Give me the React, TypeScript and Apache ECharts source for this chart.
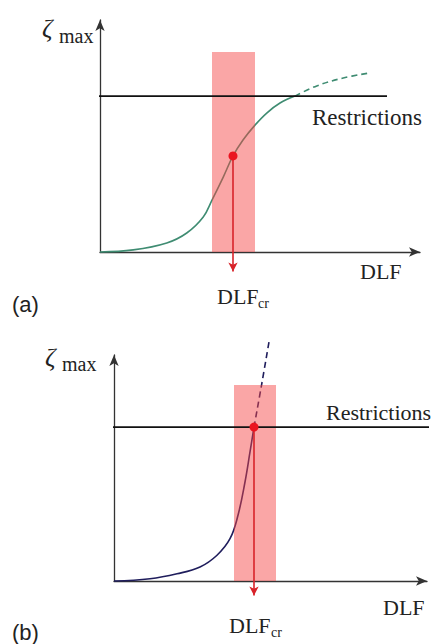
import React, { useEffect, useRef } from "react";
import * as echarts from "echarts";

// ---- Panel (a) data (arbitrary DLF / zeta units) ----
const aCurveSolid: number[][] = [
  [0, 0], [1.33, 0.09], [2.67, 0.39], [3.47, 0.82], [4.13, 1.51], [4.48, 2.24],
  [4.93, 3.23], [5.32, 4.14], [5.72, 4.83], [6.2, 5.47], [6.67, 5.99], [7.2, 6.42], [7.8, 6.72],
];
const aCurveDashed: number[][] = [[7.8, 6.72], [8.67, 7.16], [9.73, 7.5], [10.8, 7.72]];
const aRestriction: number[][] = [[-1, 6.72], [11.48, 6.72]];
const aBand: number[] = [4.48, 6.2, 0, 8.62];
const aCritical: number[] = [5.32, 4.14];
const aArrowEnd = -0.84;

// ---- Panel (b) data ----
const bCurveSolid: number[][] = [
  [0, 0], [1.44, 0.1], [2.52, 0.32], [3.44, 0.62], [4.12, 1.14], [4.64, 1.87],
  [4.96, 2.91], [5.24, 4.38], [5.44, 5.71], [5.6, 6.81],
];
const bCurveDashed: number[][] = [[5.6, 6.81], [5.9, 8.66], [6.2, 10.58]];
const bRestriction: number[][] = [[-1.52, 6.81], [12.8, 6.81]];
const bBand: number[] = [4.8, 6.48, 0, 8.67];
const bCritical: number[] = [5.6, 6.81];
const bArrowEnd = -0.64;

const axisColor = "#333";
const bandColor = "rgba(244, 70, 70, 0.48)";
const red = "#d8232a";
const serif = "'Times New Roman', 'Liberation Serif', 'DejaVu Serif', serif";
const sans = "Arial, 'Liberation Sans', sans-serif";

function makeAxes(gridIndex: number, xMax: number) {
  const common = {
    gridIndex,
    type: "value" as const,
    splitLine: { show: false },
    axisTick: { show: false },
    axisLabel: { show: false },
    axisLine: {
      show: true,
      onZero: false,
      symbol: ["none", "arrow"],
      symbolSize: [7, 11],
      lineStyle: { color: axisColor, width: 1.3 },
    },
  };
  return {
    x: { ...common, min: 0, max: xMax },
    y: { ...common, min: 0, max: 10 },
  };
}

function panelSeries(
  idx: number,
  solid: number[][],
  dashed: number[][],
  curveColor: string,
  restriction: number[][],
  band: number[],
  critical: number[],
  arrowEnd: number
) {
  return [
    {
      type: "line",
      xAxisIndex: idx,
      yAxisIndex: idx,
      data: solid,
      smooth: 0.4,
      symbol: "none",
      clip: false,
      z: 2,
      lineStyle: { color: curveColor, width: 1.6 },
    },
    {
      type: "line",
      xAxisIndex: idx,
      yAxisIndex: idx,
      data: dashed,
      smooth: 0.4,
      symbol: "none",
      clip: false,
      z: 2,
      lineStyle: { color: curveColor, width: 1.6, type: [6, 4] },
    },
    {
      type: "custom",
      xAxisIndex: idx,
      yAxisIndex: idx,
      data: [band],
      clip: false,
      z: 3,
      encode: { x: [0, 1], y: [2, 3] },
      renderItem: (_p: any, api: any) => {
        const p0 = api.coord([api.value(0), api.value(3)]);
        const p1 = api.coord([api.value(1), api.value(2)]);
        return {
          type: "rect",
          shape: { x: p0[0], y: p0[1], width: p1[0] - p0[0], height: p1[1] - p0[1] },
          style: { fill: bandColor },
        };
      },
    },
    {
      type: "line",
      xAxisIndex: idx,
      yAxisIndex: idx,
      data: restriction,
      symbol: "none",
      clip: false,
      z: 4,
      lineStyle: { color: "#111", width: 1.7 },
    },
    {
      type: "line",
      xAxisIndex: idx,
      yAxisIndex: idx,
      clip: false,
      z: 5,
      showSymbol: true,
      lineStyle: { color: red, width: 1.6 },
      itemStyle: { color: red },
      data: [
        { value: critical, symbol: "circle", symbolSize: 9, itemStyle: { color: "#ea1420" } },
        { value: [critical[0], arrowEnd], symbol: "arrow", symbolSize: [7, 9], symbolRotate: 180 },
      ],
    },
  ];
}

function txt(x: number, y: number, text: string, size: number, opts: any = {}) {
  return {
    type: "text",
    x,
    y,
    z: 10,
    style: {
      text,
      fill: "#222",
      fontFamily: opts.font || serif,
      fontSize: size,
      fontStyle: opts.italic ? "italic" : "normal",
      align: "left",
      verticalAlign: "middle",
    },
  };
}

export default function App() {
  const ref = useRef<HTMLDivElement>(null);
  useEffect(() => {
    if (!ref.current) return;
    const chart = echarts.init(ref.current, undefined, { renderer: "svg" });
    const a = makeAxes(0, 12.8);
    const b = makeAxes(1, 12.52);
    chart.setOption({
      animation: false,
      backgroundColor: "#fff",
      grid: [
        { left: 100, top: 20, width: 320, height: 232 },
        { left: 114, top: 355, width: 313, height: 226 },
      ],
      xAxis: [a.x, b.x],
      yAxis: [a.y, b.y],
      series: [
        ...panelSeries(0, aCurveSolid, aCurveDashed, "#3f8c72", aRestriction, aBand, aCritical, aArrowEnd),
        ...panelSeries(1, bCurveSolid, bCurveDashed, "#1f1d5c", bRestriction, bBand, bCritical, bArrowEnd),
      ],
      graphic: [
        txt(42, 28, "ζ", 26, { italic: true }),
        txt(59, 36, "max", 20),
        txt(312, 117, "Restrictions", 23),
        txt(360, 271, "DLF", 22),
        txt(217, 296, "DLF", 22),
        txt(258, 303, "cr", 14),
        txt(12, 304, "(a)", 22, { font: sans }),
        txt(45, 357, "ζ", 26, { italic: true }),
        txt(62, 364, "max", 20),
        txt(326, 412, "Restrictions", 22),
        txt(383, 607, "DLF", 22),
        txt(229, 625, "DLF", 22),
        txt(271, 632, "cr", 14),
        txt(12, 632, "(b)", 22, { font: sans }),
      ],
    });
    return () => chart.dispose();
  }, []);
  return (
    <div
      ref={ref}
      style={{ position: "fixed", left: 0, top: 0, width: 434, height: 644, background: "#fff" }}
    />
  );
}
